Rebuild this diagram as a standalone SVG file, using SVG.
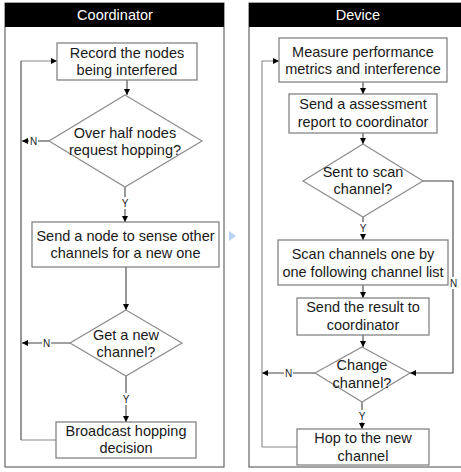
<svg xmlns="http://www.w3.org/2000/svg" width="461" height="472" viewBox="0 0 461 472">
<defs>
<style>
text{font-family:"Liberation Sans",Arial,sans-serif;fill:#1a1a1a;text-anchor:middle}
.t{font-size:14.5px}
.h{font-size:14.5px;fill:#fff}
.l{font-size:10px;fill:#222}
.box{fill:#fff;stroke:#7a7a7a;stroke-width:1.2}
.dia{fill:#fff;stroke:#8c8c8c;stroke-width:1.2}
.frame{fill:#fff;stroke:#666;stroke-width:1.2}
.c{fill:none;stroke:#444;stroke-width:1.1}
.cg{fill:none;stroke:#888;stroke-width:1.1}
.bg{fill:#fff}
</style>
<marker id="a" viewBox="0 0 8 8" refX="8" refY="4" markerWidth="6" markerHeight="6" orient="auto" markerUnits="userSpaceOnUse"><path d="M0,0L8,4L0,8z" fill="#000"/></marker>
</defs>
<g id="laneCoordinator">
<rect class="frame" x="5" y="3" width="219" height="464"/>
<rect x="5" y="3" width="219" height="24" fill="#000"/>
<text class="h" x="115" y="20">Coordinator</text>
</g>
<g id="laneDevice">
<rect class="frame" x="249" y="3" width="222" height="464"/>
<rect x="249" y="3" width="222" height="24" fill="#000"/>
<text class="h" x="358" y="20">Device</text>
</g>
<path d="M229,231L236,236L229,241z" fill="#b8d4f4"/>
<g id="connectors">
<path class="c" d="M127,80V95" marker-end="url(#a)"/>
<path class="c" d="M49,141H22" marker-end="url(#a)"/>
<path class="c" d="M125,187V222" marker-end="url(#a)"/>
<path class="c" d="M126,267V310" marker-end="url(#a)"/>
<path class="c" d="M70,343H22" marker-end="url(#a)"/>
<path class="c" d="M126,376V422" marker-end="url(#a)"/>
<path class="cg" d="M56,440H21"/>
<path class="c" d="M21,440V61"/>
<path class="cg" d="M21,61H57" marker-end="url(#a)"/>
<path class="c" d="M363,82V94" marker-end="url(#a)"/>
<path class="c" d="M363,133V144" marker-end="url(#a)"/>
<path class="c" d="M423,181H453V373H410" marker-end="url(#a)"/>
<path class="c" d="M363,217V240" marker-end="url(#a)"/>
<path class="c" d="M363,285V298" marker-end="url(#a)"/>
<path class="c" d="M363,335V347" marker-end="url(#a)"/>
<path class="c" d="M315,373H262" marker-end="url(#a)"/>
<path class="c" d="M362,402V429" marker-end="url(#a)"/>
<path class="cg" d="M297,447H262"/>
<path class="cg" d="M262,447V61H279" marker-end="url(#a)"/>
<rect class="bg" x="29" y="135" width="9" height="12"/><text class="l" x="33.5" y="145">N</text>
<rect class="bg" x="120" y="197" width="10" height="12"/><text class="l" x="125" y="207">Y</text>
<rect class="bg" x="42" y="337" width="9" height="12"/><text class="l" x="46.5" y="347">N</text>
<rect class="bg" x="121" y="393" width="10" height="12"/><text class="l" x="126" y="403">Y</text>
<rect class="bg" x="449" y="277" width="9" height="12"/><text class="l" x="453.5" y="287">N</text>
<rect class="bg" x="358" y="222" width="10" height="12"/><text class="l" x="363" y="232">Y</text>
<rect class="bg" x="284" y="367" width="9" height="12"/><text class="l" x="288.5" y="377">N</text>
<rect class="bg" x="357" y="410" width="10" height="12"/><text class="l" x="362" y="420">Y</text>
</g>
<g id="recordNodes">
<rect class="box" x="57" y="43" width="140" height="37"/>
<text class="t" x="127" y="58">Record the nodes</text>
<text class="t" x="127" y="75">being interfered</text>
</g>
<g id="overHalf">
<polygon class="dia" points="125,95 202,141 125,187 49,141"/>
<text class="t" x="125" y="138">Over half nodes</text>
<text class="t" x="125" y="155">request hopping?</text>
</g>
<g id="sendNode">
<rect class="box" x="32" y="222" width="187" height="45"/>
<text class="t" x="125.5" y="241">Send a node to sense other</text>
<text class="t" x="125.5" y="258">channels for a new one</text>
</g>
<g id="getNew">
<polygon class="dia" points="126,310 182,343 126,376 70,343"/>
<text class="t" x="126" y="340">Get a new</text>
<text class="t" x="126" y="357">channel?</text>
</g>
<g id="broadcast">
<rect class="box" x="56" y="422" width="140" height="36"/>
<text class="t" x="126" y="436">Broadcast hopping</text>
<text class="t" x="126" y="453">decision</text>
</g>
<g id="measure">
<rect class="box" x="279" y="38" width="168" height="44"/>
<text class="t" x="363" y="57">Measure performance</text>
<text class="t" x="363" y="74">metrics and interference</text>
</g>
<g id="sendReport">
<rect class="box" x="289" y="94" width="148" height="39"/>
<text class="t" x="363" y="109">Send a assessment</text>
<text class="t" x="363" y="127">report to coordinator</text>
</g>
<g id="sentToScan">
<polygon class="dia" points="363,144 423,181 363,217 303,181"/>
<text class="t" x="363" y="177">Sent to scan</text>
<text class="t" x="363" y="194">channel?</text>
</g>
<g id="scanChannels">
<rect class="box" x="278" y="240" width="170" height="45"/>
<text class="t" x="363" y="259">Scan channels one by</text>
<text class="t" x="363" y="277">one following channel list</text>
</g>
<g id="sendResult">
<rect class="box" x="297" y="298" width="132" height="37"/>
<text class="t" x="363" y="312">Send the result to</text>
<text class="t" x="363" y="330">coordinator</text>
</g>
<g id="changeChannel">
<polygon class="dia" points="362,347 410,373 362,402 315,373"/>
<text class="t" x="362" y="370">Change</text>
<text class="t" x="362" y="388">channel?</text>
</g>
<g id="hop">
<rect class="box" x="297" y="429" width="132" height="36"/>
<text class="t" x="363" y="443">Hop to the new</text>
<text class="t" x="363" y="461">channel</text>
</g>
</svg>
